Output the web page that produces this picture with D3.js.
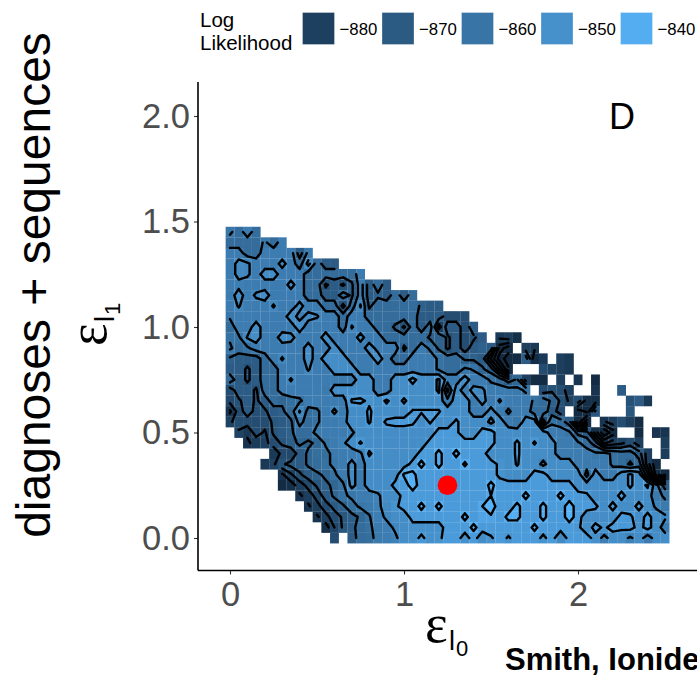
<!DOCTYPE html>
<html>
<head>
<meta charset="utf-8">
<script src="https://cdn.jsdelivr.net/npm/d3@7"></script>
<style>
  html, body { margin: 0; padding: 0; background: #fff; overflow: hidden; }
  text { font-family: "Liberation Sans", Arial, sans-serif; }
</style>
</head>
<body>
<svg id="chart" width="697" height="679"></svg>
<script>
// grid the likelihood was evaluated on
const xGrid = d3.range(51).map(i => i * 0.05);
const legendValues = [-880, -870, -860, -850, -840];
const xTicks = [0, 1, 2];
const yTicks = [0, 0.5, 1, 1.5, 2];
const contourLevels = [-842, -848, -854, -860, -866, -872, -878, -884, -890, -896, -902];
const bestFit = { x: 1.25, y: 0.25 };

// one row per epsilon_l1 value, first entry is at xGrid[rowFirst[k]], null = no run there
const rowY = [1.45, 1.4, 1.35, 1.3, 1.25, 1.2, 1.15, 1.1, 1.05, 1.0, 0.95, 0.9, 0.85, 0.8, 0.75, 0.7, 0.65, 0.6, 0.55, 0.5, 0.45, 0.4, 0.35, 0.3, 0.25, 0.2, 0.15, 0.1, 0.05, 0];
const rowFirst = [0,0,0,0,0,0,0,0,0,0,0,0,0,0,0,0,0,0,0,1,2,5,4,6,6,8,9,10,11,12];
const logLik = [
[-859,-863,-857,-863],
[-863,-863,-863,-863,-859,-863,-857],
[-857,-857,-863,-863,-857,-857,-857,-857,-869,-858],
[-857,-852,-853,-857,-857,-857,-852,-857,-863,-852,-863,-869,-869],
[-857,-852,-853,-857,-851,-851,-857,-857,-857,-863,-863,-863,-863,-863,-863,-857],
[-857,-856,-857,-857,-857,-857,-857,-852,-857,-863,-863,-873,-869,-873,-867,-857,-869,-863,-869],
[-857,-851,-857,-853,-851,-857,-857,-857,-857,-863,-863,-869,-869,-863,-867,-857,-869,-867,-869,-863,-869,-863],
[-857,-853.5,-857,-857,-857,-853.5,-857,-857,-852,-857,-857,-863,-863,-874,-863,-853.5,-867,-863,-863,-863,-863,-863,-867,-869,-869],
[-859,-857,-857,-857,-857,-857,-857,-851,-856,-852,-853.5,-857,-857,-863,-857,-857,-863,-863,-863,-863,-863,-863,-869,-869,-869,-875,-875,-875],
[-863,-857,-857,-851,-857,-857,-857,-857,-851,-857,-857,-857,-857,-863,-853.5,-857,-857,-863,-863,-867,-873,-863,-869,-863,-881,-869,-869,-875,-869],
[-861,-861,-853.5,-851,-857,-857,-851,-852,-857,-857,-857,-851,-857,-857,-857,-852,-857,-857,-863,-863,-863,-863,-863,-867,-867,-873,-869,-875,-873,-869,null,-883,-881,-887],
[-859,-863,-861,-857,-857,-857,-857,-857,-857,-851,-857,-857,-851,-857,-857,-857,-851,-856,-857,-857,-867,-863,-857,-861,-867,-873,-869,-875,-869,-867,-869,-893,-899,null,-881,-883],
[-867,-869,-869,-869,-863,-857,-853.5,-857,-857,-851,-857,-851,-851,-851,-857,-857,-857,-851,-857,-863,-863,-857,-857,-857,-861,-863,-863,-867,-867,-869,-885,-899,-905,-893,-869,-888,-883,null,-881,-883],
[-869,-869,-873,-869,-863,-863,-857,-857,-857,-853.5,-857,-857,-851,-851,-851,-857,-857,-857,-857,-857,-857,-857,-857,-857,-861,-863,-863,-859,-860.5,-865,-869,-885,-901,null,null,null,-875,-879,-881,-883],
[-863,-869,-873,-869,-863,-863,-857,-853.5,-857,-857,-857,-857,-857,-857,-857,-851,-851,-857,-857,-851,-851,-846,-851,-851,-847,-857,-857,-851,-857,-857,-861,-863,-869,-865,-880,-893,-893,null,-881,null,-885,null,-889],
[-875,-869,-869,-873,-863,-863,-857,-857,-857,-857,-857,-858,-851,-851,-851,-851,-851,-857,-857,-851,-851,-851,-851,-851,-847,-868,-851,-857,-852,-853,-857,-857,-857,-858,-861,null,-875,-873,-875,-881,null,null,-885,null,null,-869],
[-876,-873,-869,-873,-869,-863,-865,-862,-861,-857,-857,-857,-857,-857,-847.5,-847,-849,-851,-847,-851,-847,-851,-851,-851,-851,-858,-851,-851,-857,-852,-857,-853.5,-857,-857,-857,-861,-863,-867,-873,-879,-875,-887,-887,null,null,null,-873,-869,-883],
[-885,-875,-869,-874,-873,-869,-867,-863,-853.5,-862,-861,-857,-853,-857,-851,-851,-847,-851,-851,-851,-851,-847.5,-847.5,-847.5,-847.5,-851,-851,-851,-857,-857,-852,-857,-861,-857,-857,-863,-863,-869,-875,null,-893,-889,-871,null,null,null,-871],
[-879,-875,-875,-875,-875,-871,-869,-867,-858,-863,-861,-857,-857,-856,-851,-851,-847.5,-851,-847,-846,-846,-847,-851,-847.5,-851,-851,-847,-851,-851,-851,-855.5,-851,-857,-859,-851,-851,-875,-861,-863,-869,-893,-905,null,-885,-881,-875,-881,-890],
[-879,-883,-875,-879,-871,-869,-867,-863,-863,-858,-857,-857,-857,-855,-851,-851,-851,-851,-851,-851,-851,-851,-851,-846,-846,-847,-851,-851,-846,-846,-851,-851,-851,-851,-851,-851,-857,-857,-859,-868,-869,-887,-901,-893,null,null,-897,null,-885,-885],
[-885,-882,-880,-875,-871,-868,-865,-867,-865,-859,-857,-855,-851,-847.5,-851,-851,-851,-851,-851,-851,-851,-846,-846,-846,-846,-846,-846,-846,-846,-851,-851,-847,-851,-847.5,-851,-852,-857,-857,-859,-863,-869,-885,-881,-879,-875,-881,null,null,-881],
[-883,-876,-877,-869,-865,-862,-862,-858,-857,-857,-855,-847,-851,-851,-851,-851,-851,-846,-846,-840,-846,-840,-846,-846,-846,-851,-851,-851,-847,-851,-851,-851,-852,-857,-857,-857,-857,-859,-858,-861,-863,-863,-869,-881,null,-881],
[-883,-879,-873,-870,-869,-865,-863,-861,-859,-857,-852,-857,-851,-851,-851,-851,-851,-846,-840,-846,-840,-846,-846,-841,-846,-846,-846,-849,-851,-847.5,-851,-851,-855.5,-851,-851,-851,-857,-858,-857,-857,-861,-863,-867,-863,-881,-895],
[-885,-879,-873,-869,-867,-865,-861,-857,-852,-857,-851,-851,-851,-851,-841,-840,-846,-846,-846,-846,-846,-846,-846,-846,-846,-849,-851,-851,-851,-846,-846,-851,-851,-851,-851,-862,-851,-857,-857,-851,-847,-851,-870,-893,-903],
[-889,-887,-881,-876,-871,-867,-865,-861,-852,-857,-851,-851,-851,-846,-846,-838,-846,-846,-846,-846,-846,-846,-846,-846,-840,-846,-846,-846,-846,-846,-846,-846,-846,-846,-851,-851,-851,-851,-851,-851,-847,-851,-847,-858,-869],
[-885,-881,-876,-869,-865,-861,-859,-857,-857,-855,-851,-851,-846,-846,-846,-846,-846,-846,-846,-846,-846,-846,-842,-846,-846,-846,-840,-846,-846,-846,-840,-846,-846,-847,-851,-851,-851,-846,-851,-851,-851,-858,-861],
[-885,-880,-875,-870,-867,-862,-859,-858,-855,-852,-849,-846,-846,-840,-846,-840,-846,-846,-846,-846,-842,-838,-846,-846,-840,-846,-846,-840,-846,-846,-838,-846,-846,-847,-851,-846,-851,-851,-846,-851,-855,-858],
[-885,-880,-875,-871,-868,-865,-860.5,-856,-853,-851,-851,-846,-846,-846,-846,-846,-846,-840,-846,-843,-843,-846,-840,-840,-846,-846,-840,-846,-846,-838,-846,-851,-851,-851,-851,-846,-847,-851,-846,-851,-853],
[-887,-878,-871,-868,-863,-861,-858,-856,-853,-851,-850,-850,-850,-850,-846,-846,-846,-840,-846,-846,-846,-846,-846,-846,-840,-846,-846,-846,-846,-847,-851,-846,-849,-846,-847,-846,-850,-846,-851,-857],
[-875,null,-869,-863,-862,-858,-857,-855,-851,-850,-847,-850,-849,-846,-846,-850,-846,-851,-848.5,-846,-848.5,-846,-846,-846,-849,-846,-852,-846,-846,-846,-850,-856,-851,-851,-855,-851,-857,-851,-851]
];

const svg = d3.select("#chart");

const x = d3.scaleLinear().domain([0, 2]).range([230, 578]);
const y = d3.scaleLinear().domain([0, 2]).range([538, 116]);
const fill = d3.scaleLinear().domain([-889, -838.5])
  .range(["#132B43", "#56B1F7"]).interpolate(d3.interpolateLab).clamp(true);

const panel = { left: 198, right: 697, top: 82, bottom: 570.5 };

// heat map tiles
const cellW = x(0.05) - x(0);
const cellH = y(0) - y(0.05);
const cells = [];
logLik.forEach((row, k) => row.forEach((v, n) => {
  if (v !== null) cells.push({ x: xGrid[rowFirst[k] + n], y: rowY[k], v });
}));

svg.append("g").selectAll("rect")
  .data(cells)
  .enter().append("rect")
    .attr("x", d => x(d.x) - cellW / 2)
    .attr("y", d => y(d.y) - cellH / 2)
    .attr("width", cellW + 0.15)
    .attr("height", cellH + 0.15)
    .attr("fill", d => fill(d.v));

// contour lines, open where the grid has holes (same as geom_contour)
function at(i, k) {
  if (k < 0 || k >= logLik.length) return null;
  const v = logLik[k][i - rowFirst[k]];
  return v === undefined ? null : v;
}

function isoSegments(level) {
  const segs = [];
  const cross = (a, b) => (level - a) / (b - a);
  for (let k = 1; k < logLik.length; k++) {
    for (let i = 0; i < xGrid.length - 1; i++) {
      // k is the lower row, k-1 the upper one
      const bl = at(i, k), br = at(i + 1, k), tl = at(i, k - 1), tr = at(i + 1, k - 1);
      if (bl === null || br === null || tl === null || tr === null) continue;
      const x0 = xGrid[i], x1 = xGrid[i + 1], y0 = rowY[k], y1 = rowY[k - 1];
      const pts = [];
      if ((bl >= level) !== (br >= level)) pts.push([x0 + cross(bl, br) * (x1 - x0), y0]);
      if ((br >= level) !== (tr >= level)) pts.push([x1, y0 + cross(br, tr) * (y1 - y0)]);
      if ((tr >= level) !== (tl >= level)) pts.push([x0 + cross(tl, tr) * (x1 - x0), y1]);
      if ((tl >= level) !== (bl >= level)) pts.push([x0, y0 + cross(bl, tl) * (y1 - y0)]);
      if (pts.length === 2) segs.push(pts);
      if (pts.length === 4) {
        const mid = (bl + br + tl + tr) / 4;
        if ((mid >= level) === (bl >= level)) { segs.push([pts[0], pts[1]]); segs.push([pts[2], pts[3]]); }
        else { segs.push([pts[0], pts[3]]); segs.push([pts[1], pts[2]]); }
      }
    }
  }
  return segs;
}

const line = d3.line().x(d => x(d[0])).y(d => y(d[1]));

svg.append("g").selectAll("path")
  .data(contourLevels)
  .enter().append("path")
    .attr("d", lv => isoSegments(lv).map(s => line(s)).join(""))
    .attr("fill", "none")
    .attr("stroke", "#000")
    .attr("stroke-width", 2.4)
    .attr("stroke-linecap", "round")
    .attr("stroke-linejoin", "round");

svg.append("circle")
  .attr("cx", x(bestFit.x))
  .attr("cy", y(bestFit.y))
  .attr("r", 9.8)
  .attr("fill", "#ff0000");

// axes
const xAxis = svg.append("g")
  .attr("transform", `translate(0,${panel.bottom})`)
  .call(d3.axisBottom(x).tickValues(xTicks).tickFormat(d3.format("d")).tickSize(4).tickPadding(7));
const yAxis = svg.append("g")
  .attr("transform", `translate(${panel.left},0)`)
  .call(d3.axisLeft(y).tickValues(yTicks).tickFormat(d3.format(".1f")).tickSize(4).tickPadding(4));

[xAxis, yAxis].forEach(a => {
  a.select(".domain").remove();
  a.selectAll("line").attr("stroke", "#333").attr("stroke-width", 1.1);
  a.selectAll("text")
    .attr("fill", "#4d4d4d")
    .style("font-size", "34.5px")
    .style("font-family", '"Liberation Sans", sans-serif');
});

svg.append("line")
  .attr("x1", panel.left).attr("x2", panel.right)
  .attr("y1", panel.bottom).attr("y2", panel.bottom)
  .attr("stroke", "#000").attr("stroke-width", 1.6);
svg.append("line")
  .attr("x1", panel.left).attr("x2", panel.left)
  .attr("y1", panel.top).attr("y2", panel.bottom)
  .attr("stroke", "#000").attr("stroke-width", 1.6);

// axis titles
const xTitle = svg.append("g").attr("transform", "translate(425,642)");
xTitle.append("text").text("ε").style("font-family", '"Liberation Serif", serif').style("font-size", "54px");
xTitle.append("text").attr("x", 24).attr("y", 8).text("l").style("font-size", "27px");
xTitle.append("text").attr("x", 31).attr("y", 14).text("0").style("font-size", "22px");

const yTitle = svg.append("g").attr("transform", "translate(106,346) rotate(-90)");
yTitle.append("text").text("ε").style("font-family", '"Liberation Serif", serif').style("font-size", "54px");
yTitle.append("text").attr("x", 24).attr("y", 8).text("l").style("font-size", "27px");
yTitle.append("text").attr("x", 31).attr("y", 14).text("1").style("font-size", "22px");

svg.append("text")
  .attr("transform", "translate(50,285) rotate(-90)")
  .attr("text-anchor", "middle")
  .style("font-size", "48px")
  .text("diagnoses + sequences");

svg.append("text")
  .attr("x", 622).attr("y", 129)
  .attr("text-anchor", "middle")
  .style("font-size", "36px")
  .text("D");

svg.append("text")
  .attr("x", 505).attr("y", 670)
  .style("font-size", "31px")
  .style("font-weight", "bold")
  .text("Smith, Ionides");

// legend
svg.append("text").attr("x", 200).attr("y", 27).style("font-size", "20.5px").text("Log");
svg.append("text").attr("x", 200).attr("y", 50).style("font-size", "20.5px").text("Likelihood");

const legendX = d3.scalePoint().domain(legendValues).range([302.5, 620.5]);
const key = svg.append("g").selectAll("g")
  .data(legendValues)
  .enter().append("g")
    .attr("transform", d => `translate(${legendX(d)},12.5)`);
key.append("rect")
  .attr("width", 32).attr("height", 32)
  .attr("fill", d => fill(d))
  .attr("stroke", "#fff").attr("stroke-opacity", 0.3);
key.append("text")
  .attr("x", 37).attr("y", 22.5)
  .style("font-size", "16.8px")
  .text(d => "\u2212" + Math.abs(d));
</script>
</body>
</html>
